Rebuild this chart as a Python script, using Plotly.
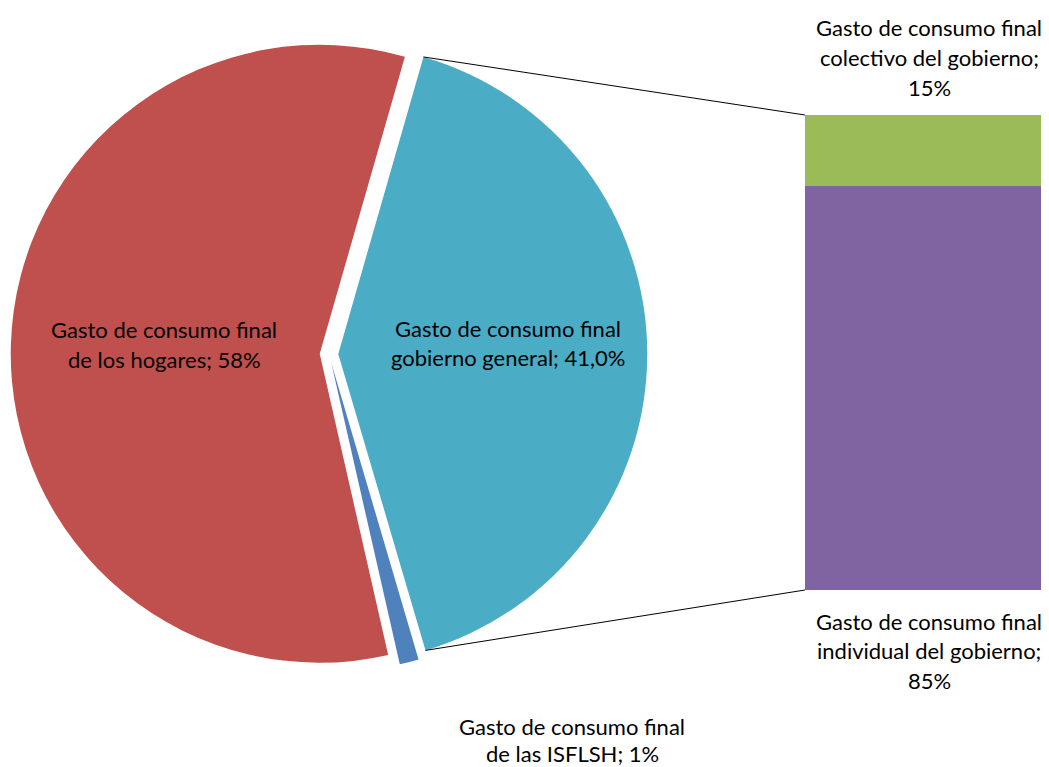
import math
import plotly.graph_objects as go

# Pie data (first slice = the one split out into the bar)
pie_labels = ["Gasto de consumo final gobierno general",
              "Gasto de consumo final de las ISFLSH",
              "Gasto de consumo final de los hogares"]
pie_values = [41.0, 1.0, 58.0]
pie_colors = ["#4BACC6", "#4F81BD", "#C0504D"]

# Bar data (breakdown of government spending)
bar_labels = ["Gasto de consumo final individual del gobierno",
              "Gasto de consumo final colectivo del gobierno"]
bar_values = [85, 15]
bar_colors = ["#8064A2", "#9BBB59"]

# page body has an 8px margin, so the figure is drawn shifted by OFF
OFF = 8
W, H = 1049 - OFF, 767 - OFF
FONT = "Lato"
FSIZE = 22
LINE_H = 29.5

# pie geometry in (window) pixels
CX, CY, R, PULL = 329 - OFF, 354 - OFF, 309, 0.03
ROT = 16  # start angle of first slice, clockwise from 12 o'clock
half = R * (1 + PULL)
pie_dom_x = [(CX - half) / W, (CX + half) / W]
pie_dom_y = [(H - CY - half) / H, (H - CY + half) / H]

# bar geometry in pixels
BX0, BX1, BY0, BY1 = 805 - OFF, 1043 - OFF, 115 - OFF, 590 - OFF
bar_dom_x = [BX0 / W, BX1 / W]
bar_dom_y = [(H - BY1) / H, (H - BY0) / H]

fig = go.Figure()
fig.add_trace(go.Pie(
    labels=pie_labels, values=pie_values, sort=False, direction="clockwise",
    rotation=ROT, pull=[PULL] * len(pie_values),
    marker=dict(colors=pie_colors, line=dict(width=0)),
    textinfo="none", hoverinfo="label+percent",
    domain=dict(x=pie_dom_x, y=pie_dom_y),
))

for lab, val, col in zip(bar_labels, bar_values, bar_colors):
    fig.add_trace(go.Bar(x=[0], y=[val], name=lab, width=[1],
                         marker=dict(color=col, line=dict(width=0)),
                         xaxis="x", yaxis="y"))


def px2paper(x, y):
    return x / W, (H - y) / H


# connector lines from split slice edges to bar corners
total = sum(pie_values)
span = 360 * pie_values[0] / total
mid = math.radians(ROT + span / 2)
ax = CX + PULL * R * math.sin(mid)
ay = CY - PULL * R * math.cos(mid)
shapes = []
for ang, by in [(ROT, BY0), (ROT + span, BY1)]:
    a = math.radians(ang)
    x0, y0 = px2paper(ax + R * math.sin(a), ay - R * math.cos(a))
    x1, y1 = px2paper(BX0, by)
    shapes.append(dict(type="line", xref="paper", yref="paper",
                       x0=x0, y0=y0, x1=x1, y1=y1,
                       line=dict(color="black", width=1)))

# data labels (center x, first line y, line step, lines) in window pixels
label_spots = [
    (508, 328, LINE_H, ["Gasto de consumo final", "gobierno general; 41,0%"]),
    (572, 726, 27, ["Gasto de consumo final", "de las ISFLSH; 1%"]),
    (164, 330, LINE_H, ["Gasto de consumo final", "de los hogares; 58%"]),
    (929, 28, LINE_H, ["Gasto de consumo final", "colectivo del gobierno;", "15%"]),
    (929, 621, LINE_H, ["Gasto de consumo final", "individual del gobierno;", "85%"]),
]
annotations = []
for cx, y0, step, lines in label_spots:
    for i, txt in enumerate(lines):
        px, py = px2paper(cx - OFF, y0 - OFF + i * step)
        annotations.append(dict(text=txt, x=px, y=py, xref="paper", yref="paper",
                                xanchor="center", yanchor="middle", showarrow=False,
                                borderpad=0,
                                font=dict(family=FONT, size=FSIZE, color="black")))

fig.update_layout(
    width=W, height=H, margin=dict(l=0, r=0, t=0, b=0),
    paper_bgcolor="white", plot_bgcolor="white",
    showlegend=False, barmode="stack", bargap=0,
    xaxis=dict(domain=bar_dom_x, range=[-0.5, 0.5], visible=False, fixedrange=True),
    yaxis=dict(domain=bar_dom_y, range=[0, 100], visible=False, fixedrange=True),
    shapes=shapes, annotations=annotations,
    font=dict(family=FONT, size=FSIZE),
)

fig.write_html("out.html")
